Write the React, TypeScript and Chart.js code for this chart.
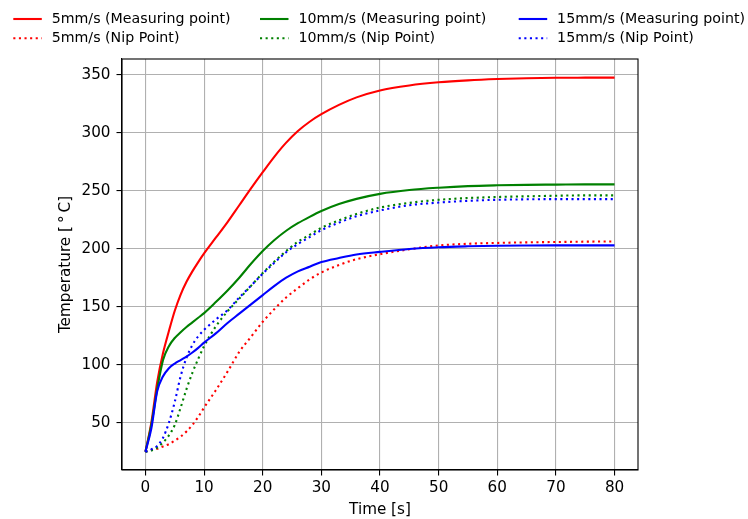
import React, { useEffect, useRef } from "react";
import { Chart, registerables } from "chart.js";

Chart.register(...registerables);

// Time axis samples [s]
const TIME = [0, 1, 2, 3, 4, 5, 6, 7, 8, 9, 10, 12, 14, 16, 18, 20, 22, 24, 26, 28, 30, 33, 36, 40, 45, 50, 55, 60, 65, 70, 75, 80];

// Temperatures [°C]
const MEAS_5 = [25, 50, 85, 110, 129, 146.5, 160.5, 171.5, 180.5, 188.5, 196, 209.5, 223, 237.5, 252, 266, 279.5, 291.5, 301.5, 309.5, 316, 324, 330.5, 336.5, 340.8, 343.5, 345.2, 346.3, 347, 347.4, 347.5, 347.5];
const NIP_5 = [25, 26.5, 27.5, 29.5, 31.5, 34.5, 38, 42.5, 48, 55, 63, 78, 94, 111, 124, 137, 148, 158, 166, 173.5, 179.5, 186, 191, 195.3, 199.5, 202.8, 204.3, 205, 205.5, 205.8, 206.1, 206.3];
const MEAS_10 = [25, 48, 79, 104, 116, 123, 128, 132.5, 136.5, 140.5, 144.5, 154, 164, 175, 187, 198, 207.5, 215.5, 222, 227.5, 232.5, 238.5, 243, 247.3, 250.6, 252.6, 254, 254.7, 255.1, 255.3, 255.5, 255.5];
const NIP_10 = [25, 26, 28.5, 33, 39, 48, 63, 79, 93, 105, 116, 133, 146, 157, 168, 179, 189, 198, 206, 212, 218, 224.5, 230, 235.5, 239.5, 242.2, 243.7, 244.6, 245.2, 245.7, 246, 246];
const MEAS_15 = [25, 45, 77, 90, 97, 101, 104, 107, 110.5, 114.5, 119, 127, 136, 144, 152, 160, 168, 175, 180.5, 184.5, 188.5, 192, 195, 197.3, 199.8, 201.3, 202.1, 202.6, 202.8, 202.9, 202.9, 202.9];
const NIP_15 = [25, 27, 30, 37, 50, 68, 90, 106, 117, 124.5, 130, 139, 147, 158, 168, 178.5, 188, 197, 204, 210, 216, 222.5, 228, 233, 237.5, 239.8, 241.3, 242.2, 242.6, 242.8, 242.8, 242.8];

const LABELS = [
  "5mm/s (Measuring point)",
  "5mm/s (Nip Point)",
  "10mm/s (Measuring point)",
  "10mm/s (Nip Point)",
  "15mm/s (Measuring point)",
  "15mm/s (Nip Point)",
];
const VALUES = [MEAS_5, NIP_5, MEAS_10, NIP_10, MEAS_15, NIP_15];
const COLORS = ["#ff0000", "#ff0000", "#008000", "#008000", "#0000ff", "#0000ff"];
const DOTTED = [false, true, false, true, false, true];

const X_TICKS = [0, 10, 20, 30, 40, 50, 60, 70, 80];
const Y_TICKS = [50, 100, 150, 200, 250, 300, 350];

const X_TITLE = "Time [s]";
const Y_TITLE = "Temperature [\u2009\u00B0\u2009C]";

const FONT_FAMILY = "'DejaVu Sans', 'Liberation Sans', sans-serif";
const AXIS_FONT = 15.2;
const LEGEND_FONT = 14.2;
const LW = 2.1;
const DASH = [2.1, 3.5];

export default function App() {
  const ref = useRef<HTMLCanvasElement | null>(null);

  useEffect(() => {
    if (!ref.current) return;

    const frame = {
      id: "frame",
      afterDatasetsDraw(chart: any) {
        const { ctx, chartArea: a } = chart;
        ctx.save();
        ctx.strokeStyle = "#000";
        ctx.lineWidth = 1.1;
        ctx.strokeRect(a.left, a.top, a.right - a.left, a.bottom - a.top);
        ctx.restore();
      },
    };

    const mplLegend = {
      id: "mplLegend",
      afterDraw(chart: any) {
        const ctx = chart.ctx;
        const colX = [13.3, 260, 518.7];
        const rowY = [19, 38.3];
        const handle = 28.5;
        const textOff = 38.4;
        ctx.save();
        ctx.font = `${LEGEND_FONT}px ${FONT_FAMILY}`;
        ctx.textBaseline = "middle";
        ctx.textAlign = "left";
        LABELS.forEach((label, i) => {
          const col = Math.floor(i / 2);
          const row = i % 2;
          const x = colX[col];
          const y = rowY[row];
          ctx.beginPath();
          ctx.strokeStyle = COLORS[i];
          ctx.lineWidth = LW;
          ctx.lineCap = "butt";
          ctx.setLineDash(DOTTED[i] ? DASH : []);
          ctx.moveTo(x, y);
          ctx.lineTo(x + handle, y);
          ctx.stroke();
          ctx.setLineDash([]);
          ctx.fillStyle = "#000";
          ctx.fillText(label, x + textOff, y + 0.5);
        });
        ctx.restore();
      },
    };

    // Later series drawn on top (as in matplotlib): reverse for Chart.js
    const datasets = LABELS.map((label, i) => ({
      label,
      data: TIME.map((t, k) => ({ x: t, y: VALUES[i][k] })),
      borderColor: COLORS[i],
      backgroundColor: COLORS[i],
      borderWidth: LW,
      borderDash: DOTTED[i] ? DASH : [],
      borderCapStyle: "butt" as const,
      pointRadius: 0,
      fill: false,
      cubicInterpolationMode: "monotone" as const,
    })).reverse();

    const chart = new Chart(ref.current, {
      type: "line",
      data: { datasets },
      options: {
        animation: false,
        responsive: true,
        maintainAspectRatio: false,
        layout: { padding: { left: 0, right: 110, top: 59, bottom: 0 } },
        plugins: {
          legend: { display: false },
          tooltip: { enabled: false },
          title: { display: false },
        },
        scales: {
          x: {
            type: "linear",
            min: -4,
            max: 84,
            afterFit: (s: any) => {
              s.height = 49;
            },
            afterBuildTicks: (s: any) => {
              s.ticks = X_TICKS.map((v) => ({ value: v }));
            },
            ticks: {
              color: "#000",
              font: { family: FONT_FAMILY, size: AXIS_FONT },
              padding: 3,
              maxRotation: 0,
              autoSkip: false,
            },
            grid: {
              color: "#b0b0b0",
              lineWidth: 1.1,
              tickColor: "#000",
              tickLength: 5.5,
              drawTicks: true,
            },
            border: { display: true, color: "#000", width: 1.1 },
            title: {
              display: true,
              text: X_TITLE,
              color: "#000",
              font: { family: FONT_FAMILY, size: AXIS_FONT },
              padding: { top: 0, bottom: 0 },
            },
          },
          y: {
            type: "linear",
            min: 9.2,
            max: 363.6,
            afterFit: (s: any) => {
              s.width = 122;
            },
            afterBuildTicks: (s: any) => {
              s.ticks = Y_TICKS.map((v) => ({ value: v }));
            },
            ticks: {
              color: "#000",
              font: { family: FONT_FAMILY, size: AXIS_FONT },
              padding: 6,
              autoSkip: false,
            },
            grid: {
              color: "#b0b0b0",
              lineWidth: 1.1,
              tickColor: "#000",
              tickLength: 5.5,
              drawTicks: true,
            },
            border: { display: true, color: "#000", width: 1.1 },
            title: {
              display: true,
              text: Y_TITLE,
              color: "#000",
              font: { family: FONT_FAMILY, size: AXIS_FONT },
              padding: { top: 57, bottom: 0 },
            },
          },
        },
      },
      plugins: [frame, mplLegend],
    });

    return () => chart.destroy();
  }, []);

  return (
    <div
      style={{
        position: "absolute",
        left: 0,
        top: 0,
        width: 748,
        height: 519,
        background: "#fff",
      }}
    >
      <canvas ref={ref} />
    </div>
  );
}
